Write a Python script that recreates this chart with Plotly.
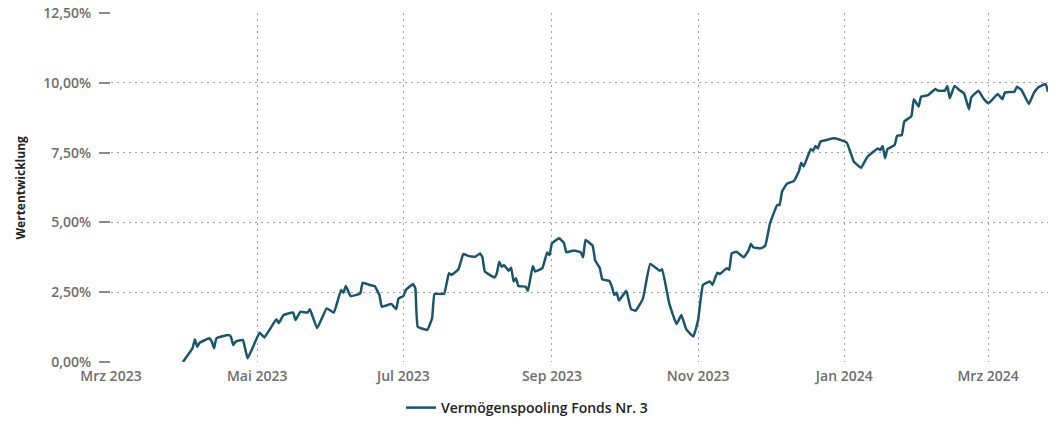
import plotly.graph_objects as go

dates = [
    "2023-03-31", "2023-04-04", "2023-04-05", "2023-04-06", "2023-04-07", "2023-04-11", "2023-04-12",
    "2023-04-13", "2023-04-14", "2023-04-19", "2023-04-20", "2023-04-21", "2023-04-22", "2023-04-25",
    "2023-04-27", "2023-04-29", "2023-05-02", "2023-05-04", "2023-05-09", "2023-05-10", "2023-05-12",
    "2023-05-16", "2023-05-17", "2023-05-19", "2023-05-22", "2023-05-23", "2023-05-26", "2023-05-30",
    "2023-06-02", "2023-06-05", "2023-06-06", "2023-06-07", "2023-06-09", "2023-06-13", "2023-06-14",
    "2023-06-17", "2023-06-19", "2023-06-21", "2023-06-22", "2023-06-26", "2023-06-28", "2023-06-29",
    "2023-07-01", "2023-07-02", "2023-07-05", "2023-07-06", "2023-07-07", "2023-07-11", "2023-07-13",
    "2023-07-14", "2023-07-18", "2023-07-20", "2023-07-21", "2023-07-24", "2023-07-26", "2023-07-28",
    "2023-07-31", "2023-08-02", "2023-08-03", "2023-08-04", "2023-08-08", "2023-08-09", "2023-08-10",
    "2023-08-11", "2023-08-12", "2023-08-14", "2023-08-15", "2023-08-16", "2023-08-17", "2023-08-18",
    "2023-08-21", "2023-08-22", "2023-08-24", "2023-08-25", "2023-08-28", "2023-08-30", "2023-08-31",
    "2023-09-01", "2023-09-04", "2023-09-06", "2023-09-07", "2023-09-10", "2023-09-13", "2023-09-14",
    "2023-09-15", "2023-09-18", "2023-09-19", "2023-09-21", "2023-09-22", "2023-09-25", "2023-09-26",
    "2023-09-27", "2023-09-28", "2023-09-29", "2023-10-02", "2023-10-04", "2023-10-06", "2023-10-09",
    "2023-10-12", "2023-10-16", "2023-10-17", "2023-10-20", "2023-10-23", "2023-10-25", "2023-10-27",
    "2023-10-30", "2023-11-01", "2023-11-03", "2023-11-06", "2023-11-07", "2023-11-09", "2023-11-10",
    "2023-11-13", "2023-11-14", "2023-11-15", "2023-11-17", "2023-11-20", "2023-11-22", "2023-11-23",
    "2023-11-24", "2023-11-27", "2023-11-29", "2023-12-01", "2023-12-04", "2023-12-05", "2023-12-06",
    "2023-12-08", "2023-12-11", "2023-12-13", "2023-12-14", "2023-12-15", "2023-12-18", "2023-12-19",
    "2023-12-20", "2023-12-21", "2023-12-22", "2023-12-28", "2024-01-02", "2024-01-05", "2024-01-08",
    "2024-01-10", "2024-01-11", "2024-01-15", "2024-01-16", "2024-01-17", "2024-01-18", "2024-01-19",
    "2024-01-22", "2024-01-23", "2024-01-25", "2024-01-26", "2024-01-29", "2024-01-30", "2024-02-01",
    "2024-02-02", "2024-02-05", "2024-02-08", "2024-02-09", "2024-02-12", "2024-02-13", "2024-02-14",
    "2024-02-16", "2024-02-18", "2024-02-20", "2024-02-22", "2024-02-23", "2024-02-26", "2024-02-28",
    "2024-03-01", "2024-03-02", "2024-03-05", "2024-03-07", "2024-03-08", "2024-03-12", "2024-03-13",
    "2024-03-15", "2024-03-18", "2024-03-20", "2024-03-22", "2024-03-25", "2024-03-26",
]

values = [
    0.00, 0.49, 0.81, 0.55, 0.69, 0.85, 0.74,
    0.49, 0.85, 0.97, 0.91, 0.61, 0.73, 0.79,
    0.13, 0.49, 1.05, 0.88, 1.53, 1.39, 1.68,
    1.77, 1.50, 1.80, 1.77, 1.89, 1.21, 1.92,
    1.77, 2.58, 2.48, 2.72, 2.36, 2.46, 2.84,
    2.76, 2.72, 2.40, 1.98, 2.08, 1.89, 2.28,
    2.36, 2.58, 2.79, 2.64, 1.26, 1.15, 1.57,
    2.44, 2.44, 3.18, 3.12, 3.32, 3.87, 3.80,
    3.77, 3.89, 3.75, 3.24, 3.03, 3.18, 3.59,
    3.41, 3.47, 3.27, 3.38, 2.88, 3.00, 2.72,
    2.70, 2.55, 3.44, 3.24, 3.36, 3.92, 3.83,
    4.25, 4.43, 4.27, 3.93, 3.99, 3.93, 3.75,
    4.37, 4.16, 3.65, 3.36, 2.96, 2.90, 2.70,
    2.40, 2.48, 2.20, 2.55, 1.89, 1.84, 2.28,
    3.51, 3.27, 3.32, 2.08, 1.36, 1.68, 1.18,
    0.91, 1.50, 2.76, 2.88, 2.76, 3.20, 3.15,
    3.36, 3.30, 3.89, 3.95, 3.75, 3.99, 4.23,
    4.11, 4.07, 4.16, 4.97, 5.62, 5.62, 6.10,
    6.38, 6.49, 6.82, 7.14, 7.00, 7.62, 7.57,
    7.74, 7.65, 7.89, 8.01, 7.86, 7.17, 6.96,
    7.26, 7.38, 7.65, 7.59, 7.74, 7.30, 7.62,
    7.77, 8.10, 8.13, 8.61, 8.81, 9.41, 9.15,
    9.50, 9.56, 9.78, 9.72, 9.72, 9.89, 9.45,
    9.89, 9.74, 9.62, 9.05, 9.48, 9.72, 9.45,
    9.27, 9.33, 9.60, 9.41, 9.65, 9.68, 9.86,
    9.74, 9.24, 9.62, 9.84, 9.96, 9.68,
]

x_tick_vals = ["2023-03-01", "2023-05-01", "2023-07-01", "2023-09-01",
               "2023-11-01", "2024-01-01", "2024-03-01"]
x_tick_text = ["Mrz 2023", "Mai 2023", "Jul 2023", "Sep 2023",
               "Nov 2023", "Jan 2024", "Mrz 2024"]
y_tick_vals = [0, 2.5, 5, 7.5, 10, 12.5]
y_tick_text = ["0,00%", "2,50%", "5,00%", "7,50%", "10,00%", "12,50%"]

series_name = "Vermögenspooling Fonds Nr. 3"
line_color = "#18566f"
tick_color = "#6e6e6e"
grid_color = "#a0a0a0"
FONT = "Open Sans"

W, H = 1049, 422
ML, MT, MR, MB = 111, 13, 1, 60
PW = W - ML - MR
PH = H - MT - MB

fig = go.Figure()
fig.add_trace(go.Scatter(
    x=dates, y=values, mode="lines", name=series_name,
    line=dict(color=line_color, width=2.5, shape="spline", smoothing=0.3),
))

fig.update_layout(
    width=W, height=H,
    margin=dict(l=ML, r=MR, t=MT, b=MB),
    paper_bgcolor="white", plot_bgcolor="white",
    font=dict(family=FONT, size=13, color=tick_color),
    showlegend=True,
    legend=dict(orientation="h", xref="container", yref="container",
                x=527 / W, xanchor="center",
                y=(H - 408) / H, yanchor="middle",
                font=dict(family=FONT, size=14, color="#222222", weight=600)),
    xaxis=dict(
        type="date", range=["2023-03-01", "2024-03-26"], automargin=False,
        tickvals=x_tick_vals, ticktext=x_tick_text,
        showgrid=True, gridcolor=grid_color, griddash="2px,4px", gridwidth=1,
        showline=False, zeroline=False, ticks="", ticklabelstandoff=4,
        ticklabeloverflow="allow",
        tickfont=dict(family=FONT, size=14, color=tick_color, weight=600),
    ),
    yaxis=dict(
        range=[0, 12.5], tickvals=y_tick_vals, ticktext=y_tick_text, automargin=False,
        showgrid=True, gridcolor=grid_color, griddash="2px,4px", gridwidth=1,
        showline=False, zeroline=False,
        ticks="outside", ticklen=11, tickcolor="#8a8a8a", tickwidth=2,
        ticklabelstandoff=5, ticklabeloverflow="allow",
        tickfont=dict(family=FONT, size=14, color=tick_color, weight=600),
    ),
    annotations=[dict(
        text="Wertentwicklung", xref="paper", yref="paper",
        x=(20 - ML) / PW, y=0.5, xanchor="center", yanchor="middle",
        textangle=-90, showarrow=False,
        font=dict(family=FONT, size=12, color="#222222", weight="bold"),
    )],
)

# remove the browser's default 8px body margin so the figure sits at the page origin
fig.write_html("out.html", config={"displayModeBar": False},
               post_script="document.body.style.margin='0';")
